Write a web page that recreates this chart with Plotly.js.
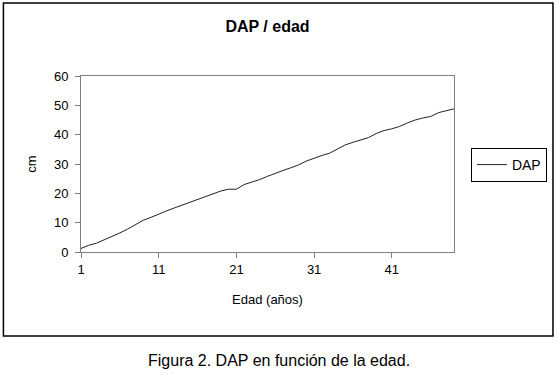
<!DOCTYPE html>
<html>
<head>
<meta charset="utf-8">
<script src="https://cdn.plot.ly/plotly-3.0.1.min.js"></script>
<style>
html,body{margin:0;padding:0;background:#fff;}
#chart{width:559px;height:375px;}
</style>
</head>
<body>
<div id="chart"></div>
<script>
// Data
const edad = [1,2,3,4,5,6,7,8,9,10,11,12,13,14,15,16,17,18,19,20,21,22,23,24,25,26,27,28,29,30,31,32,33,34,35,36,37,38,39,40,41,42,43,44,45,46,47,48,49];
const dap = [1.2,2.3,3.0,4.1,5.3,6.5,7.8,9.3,10.8,11.8,13.0,14.0,15.0,16.0,16.9,17.8,18.9,19.8,20.8,21.4,21.4,23.0,23.8,24.7,25.8,26.9,27.8,28.7,29.7,31.0,32.0,32.9,33.7,35.0,36.5,37.4,38.1,39.0,40.4,41.4,42.0,42.8,44.0,45.0,45.7,46.2,47.5,48.1,48.8];
const xTicks = [1,11,21,31,41];
const yTicks = [0,10,20,30,40,50,60];

const L = 81, R = 456, T = 76, B = 252, W = 559, H = 375;
const pw = R - L, ph = B - T;
const px = v => (v - L) / pw;
const py = v => (B - v) / ph;

const trace = {
  x: edad, y: dap, type: 'scatter', mode: 'lines', name: 'DAP',
  line: {color: '#222222', width: 1}
};

const font = 'Arial, "Liberation Sans", sans-serif';
const layout = {
  width: W, height: H,
  margin: {l: L, r: W - R, t: T, b: H - B, pad: 0},
  paper_bgcolor: '#ffffff', plot_bgcolor: '#ffffff',
  font: {family: font, color: '#000000', size: 13},
  title: {text: '<b>DAP / edad</b>', font: {family: font, size: 16, color: '#000'},
          x: 0.5, xref: 'paper', xanchor: 'center', y: 1 - 26/H, yanchor: 'middle'},
  xaxis: {
    range: [1, 49], tickvals: xTicks, ticktext: xTicks.map(String),
    showgrid: false, zeroline: false, showline: true, linecolor: '#808080', linewidth: 1, mirror: true,
    ticks: 'outside', ticklen: 5, tickcolor: '#808080', tickfont: {size: 13, family: font},
    title: {text: 'Edad (años)', font: {size: 13, family: font}, standoff: 19},
    fixedrange: true
  },
  yaxis: {
    range: [0, 60], tickvals: yTicks,
    showgrid: false, zeroline: false, showline: true, linecolor: '#808080', linewidth: 1, mirror: true,
    ticks: 'outside', ticklen: 5, tickcolor: '#808080', tickfont: {size: 13, family: font},
    ticklabelstandoff: 4,
    title: {text: 'cm', font: {size: 13, family: font}, standoff: 14},
    fixedrange: true
  },
  showlegend: true,
  legend: {
    x: px(473), y: py(148), xanchor: 'left', yanchor: 'top',
    bordercolor: '#000000', borderwidth: 1, bgcolor: '#ffffff',
    font: {size: 14, family: font}, itemwidth: 30, tracegroupgap: 0
  },
  shapes: [{
    type: 'rect', xref: 'paper', yref: 'paper',
    x0: px(3), x1: px(555.5), y0: py(336), y1: py(3),
    line: {color: '#000000', width: 1.5}, fillcolor: 'rgba(0,0,0,0)', layer: 'below'
  }],
  annotations: [{
    text: 'Figura 2. DAP en función de la edad.', xref: 'paper', yref: 'paper',
    x: px(280), y: py(360), xanchor: 'center', yanchor: 'middle', showarrow: false,
    font: {size: 16, family: font, color: '#000'}
  }]
};

Plotly.newPlot('chart', [trace], layout, {displayModeBar: false, staticPlot: true});
</script>
</body>
</html>
